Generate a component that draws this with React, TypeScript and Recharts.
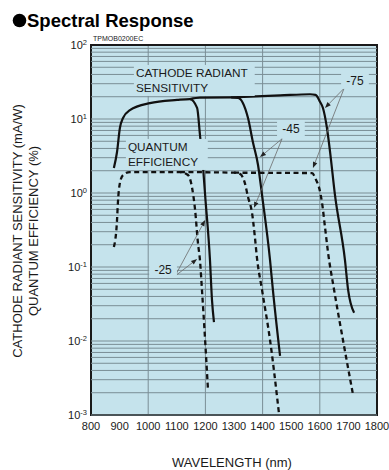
import { LineChart, Line, XAxis, YAxis, CartesianGrid, ReferenceLine, ReferenceArea, ReferenceDot } from "recharts";

// cathode radiant sensitivity (mA/W), solid curves
const WL_S25 = [880, 891, 901, 912, 936, 1006, 1101, 1146, 1171, 1181, 1192, 1199, 1216, 1223, 1230];
const VAL_S25 = [2.18, 3.58, 7.55, 10.3, 13.2, 16.4, 18.1, 18.6, 14.1, 6.08, 2.18, 0.94, 0.124, 0.036, 0.018];
const WL_S45 = [1146, 1181, 1290, 1315, 1331, 1349, 1366, 1384, 1398, 1426, 1436, 1461];
const VAL_S45 = [18.6, 19.4, 19.6, 19.2, 16.5, 10.3, 4.89, 2.39, 0.94, 0.124, 0.049, 0.0063];
const WL_S75 = [1290, 1461, 1566, 1585, 1601, 1611, 1625, 1636, 1653, 1688, 1699, 1720];
const VAL_S75 = [19.6, 20.8, 21.6, 21.2, 17.0, 14.1, 7.55, 3.58, 0.94, 0.124, 0.049, 0.024];

// quantum efficiency (%), dashed curves
const WL_Q25 = [880, 891, 894, 901, 912, 936, 1111, 1139, 1153, 1164, 1174, 1181, 1188, 1199, 1209];
const VAL_Q25 = [0.186, 0.43, 0.73, 1.36, 1.75, 1.92, 1.92, 1.75, 1.2, 0.59, 0.21, 0.124, 0.049, 0.0103, 0.0022];
const WL_Q45 = [1111, 1300, 1321, 1338, 1349, 1363, 1373, 1380, 1398, 1426, 1457];
const VAL_Q45 = [1.92, 1.88, 1.81, 1.36, 0.88, 0.54, 0.254, 0.136, 0.049, 0.0103, 0.00107];
const WL_Q75 = [1300, 1573, 1587, 1597, 1608, 1618, 1629, 1650, 1681, 1716];
const VAL_Q75 = [1.88, 1.86, 1.5, 1.2, 0.73, 0.35, 0.155, 0.049, 0.0103, 0.0019];

const X_TICKS = [800, 900, 1000, 1100, 1200, 1300, 1400, 1500, 1600, 1700, 1800];
const Y_TICKS = [0.001, 0.01, 0.1, 1, 10, 100];

const NOTES = [
  { wl: 957, v: 41.9, lines: ["CATHODE RADIANT", "SENSITIVITY"], anchor: "start" },
  { wl: 929, v: 4.19, lines: ["QUANTUM", "EFFICIENCY"], anchor: "start" },
  { wl: 1723, v: 32.7, lines: ["-75"], anchor: "middle" },
  { wl: 1499, v: 7.33, lines: ["-45"], anchor: "middle" },
  { wl: 1052, v: 0.091, lines: ["-25"], anchor: "middle" },
];

const ARROWS = [
  { from: [1685, 26], to: [1618, 14.1] },
  { from: [1685, 26], to: [1576, 2.18] },
  { from: [1468, 5.4], to: [1391, 3.06] },
  { from: [1468, 5.4], to: [1370, 0.63] },
  { from: [1094, 0.0755], to: [1199, 0.43] },
  { from: [1094, 0.0755], to: [1171, 0.128] },
];

const zip = (w: number[], v: number[]) => w.map((wl, i) => ({ wl, v: v[i] }));

const SOLID = [zip(WL_S25, VAL_S25), zip(WL_S45, VAL_S45), zip(WL_S75, VAL_S75)];
const DASHED = [zip(WL_Q25, VAL_Q25), zip(WL_Q45, VAL_Q45), zip(WL_Q75, VAL_Q75)];

// log grid: 1..9 in every decade
const MINOR_GRID: number[] = [];
[0.001, 0.01, 0.1, 1, 10].forEach((d) => {
  for (let k = 1; k <= 9; k++) MINOR_GRID.push(+(d * k).toPrecision(3));
});

const BG = "#c5e3ec";
const GRID = "#7a8e95";
const INK = "#1a1a1a";
const FONT = "'Liberation Sans', Arial, sans-serif";

const YTick = (props: any) => {
  const { x, y, payload } = props;
  const exp = Math.round(Math.log10(payload.value));
  return (
    <text x={x} y={y} dy={4} textAnchor="end" fontSize={11} fill={INK} fontFamily={FONT}>
      10<tspan dy={-4} fontSize={7.5}>{exp}</tspan>
    </text>
  );
};

const noteShape = (note: any) => (props: any) => {
  const { cx, cy } = props;
  const fs = note.lines.length > 1 ? 11.8 : 12;
  const w = Math.max(...note.lines.map((l: string) => l.length)) * fs * 0.66;
  const h = note.lines.length * 15;
  const rx = note.anchor === "start" ? cx - 2 : cx - w / 2 - 2;
  return (
    <g>
      <rect x={rx} y={cy - 8} width={w + 4} height={h + 1} fill={BG} />
      {note.lines.map((l: string, i: number) => (
        <text key={i} x={cx} y={cy + i * 15} dy="0.36em" textAnchor={note.anchor} fontSize={fs} fill={INK} fontFamily={FONT}>
          {l}
        </text>
      ))}
    </g>
  );
};

const arrowShape = (props: any) => {
  const { x1, y1, x2, y2 } = props;
  const a = Math.atan2(y2 - y1, x2 - x1);
  const len = 6;
  const hw = 2.3;
  const bx = x2 - len * Math.cos(a);
  const by = y2 - len * Math.sin(a);
  const px = -Math.sin(a) * hw;
  const py = Math.cos(a) * hw;
  return (
    <g>
      <line x1={x1} y1={y1} x2={bx} y2={by} stroke="#6b6b6b" strokeWidth={0.8} />
      <polygon points={`${x2},${y2} ${bx + px},${by + py} ${bx - px},${by - py}`} fill="#222" />
    </g>
  );
};

export default function App() {
  return (
    <div style={{ position: "relative", width: 389, height: 470, background: "#fff", fontFamily: FONT }}>
      <style>{"body{margin:0}"}</style>
      <LineChart width={389} height={470} margin={{ top: 45, right: 12, bottom: 35, left: 51 }}>
        <CartesianGrid horizontal={false} stroke={GRID} fill={BG} fillOpacity={1} />
        <XAxis
          dataKey="wl"
          type="number"
          domain={[800, 1800]}
          ticks={X_TICKS}
          axisLine={false}
          tickLine={false}
          tickSize={0}
          tickMargin={7}
          height={20}
          allowDataOverflow
          tick={{ fontSize: 11, fill: INK, fontFamily: FONT }}
        />
        <YAxis
          dataKey="v"
          type="number"
          scale="log"
          domain={[0.001, 100]}
          ticks={Y_TICKS}
          axisLine={false}
          tickLine={false}
          tickSize={0}
          tickMargin={4}
          width={40}
          allowDataOverflow
          tick={<YTick />}
        />
        {MINOR_GRID.map((g) => (
          <ReferenceLine key={g} y={g} stroke={GRID} strokeWidth={1} />
        ))}
        {SOLID.map((d, i) => (
          <Line
            key={"s" + i}
            data={d}
            dataKey="v"
            type="monotone"
            stroke="#111"
            strokeWidth={2.2}
            dot={false}
            activeDot={false}
            isAnimationActive={false}
          />
        ))}
        {DASHED.map((d, i) => (
          <Line
            key={"q" + i}
            data={d}
            dataKey="v"
            type="monotone"
            stroke="#111"
            strokeWidth={2.3}
            strokeDasharray="5 3.5"
            dot={false}
            activeDot={false}
            isAnimationActive={false}
          />
        ))}
        {ARROWS.map((a, i) => (
          <ReferenceLine
            key={"a" + i}
            segment={[
              { x: a.from[0], y: a.from[1] },
              { x: a.to[0], y: a.to[1] },
            ]}
            shape={arrowShape}
          />
        ))}
        {NOTES.map((n, i) => (
          <ReferenceDot key={"n" + i} x={n.wl} y={n.v} r={0} shape={noteShape(n)} />
        ))}
        <ReferenceArea x1={800} x2={1800} y1={0.001} y2={100} fill="none" stroke={INK} strokeWidth={2} />
      </LineChart>
      <svg width={389} height={470} style={{ position: "absolute", left: 0, top: 0, pointerEvents: "none" }}>
        <circle cx={19.5} cy={20.5} r={6.8} fill="#000" />
        <text x={27} y={27} fontSize={18.5} fontWeight="bold" fill="#000" fontFamily={FONT}>
          Spectral Response
        </text>
        <text x={93} y={40.5} fontSize={7} fill={INK} fontFamily={FONT}>
          TPMOB0200EC
        </text>
        <text x={232} y={466.5} fontSize={13} textAnchor="middle" fill={INK} fontFamily={FONT}>
          WAVELENGTH (nm)
        </text>
        <text x={22} y={231} fontSize={13} textAnchor="middle" fill={INK} fontFamily={FONT} transform="rotate(-90 22 231)">
          CATHODE RADIANT SENSITIVITY (mA/W)
        </text>
        <text x={38} y={231} fontSize={13} textAnchor="middle" fill={INK} fontFamily={FONT} transform="rotate(-90 38 231)">
          QUANTUM EFFICIENCY (%)
        </text>
      </svg>
    </div>
  );
}
